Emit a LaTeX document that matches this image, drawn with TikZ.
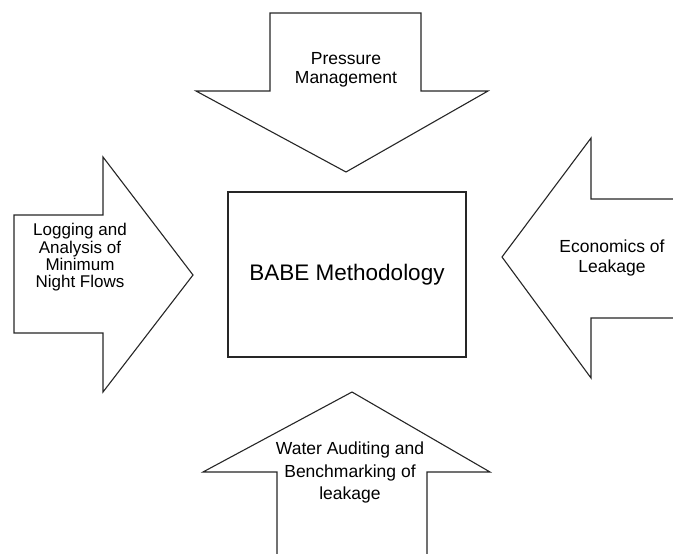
\documentclass[tikz,border=0pt]{standalone}
\usepackage{fontspec}
\setmainfont{Liberation Sans}
\begin{document}
\begin{tikzpicture}[x=1pt,y=-1pt,
  blockarrow/.style={draw=black!85,line width=1.1pt,fill=white,line join=miter},
  lbl/.style={align=center,font=\fontsize{17.5}{19}\selectfont,inner sep=0pt}]
\useasboundingbox (0,0) rectangle (673,554);
\clip (0,0) rectangle (673,554);
% top arrow
\draw[blockarrow] (270,13) -- (421,13) -- (421,91) -- (488,91) -- (346,172) -- (196,91) -- (270,91) -- cycle;
% left arrow
\draw[blockarrow] (14,215) -- (103,215) -- (103,157) -- (193,275) -- (103,392) -- (103,333) -- (14,333) -- cycle;
% right arrow
\draw[blockarrow] (680,199) -- (591,199) -- (591,138) -- (502,257) -- (591,378) -- (591,318) -- (680,318);
% bottom arrow
\draw[blockarrow] (277,560) -- (277,472) -- (203,472) -- (352,392) -- (490,472) -- (427,472) -- (427,560);
% centre box
\node[draw=black!85,line width=1.1pt,minimum width=238pt,minimum height=165pt,inner sep=0pt,
  font=\fontsize{22.5}{26}\selectfont] (babe) at (347,274.5) {BABE Methodology};
\node[lbl] (pm) at (346,70) {Pressure\\Management};
\node[lbl,font=\fontsize{17}{17.3}\selectfont] (lmnf) at (80,257.5) {Logging and\\Analysis of\\Minimum\\Night Flows};
\node[lbl,font=\fontsize{17.5}{20.5}\selectfont] (eco) at (612,258) {Economics of\\Leakage};
\node[lbl,font=\fontsize{17.5}{22.5}\selectfont] (wab) at (350,472.5) {Water Auditing and\\Benchmarking of\\leakage};
\end{tikzpicture}
\end{document}
